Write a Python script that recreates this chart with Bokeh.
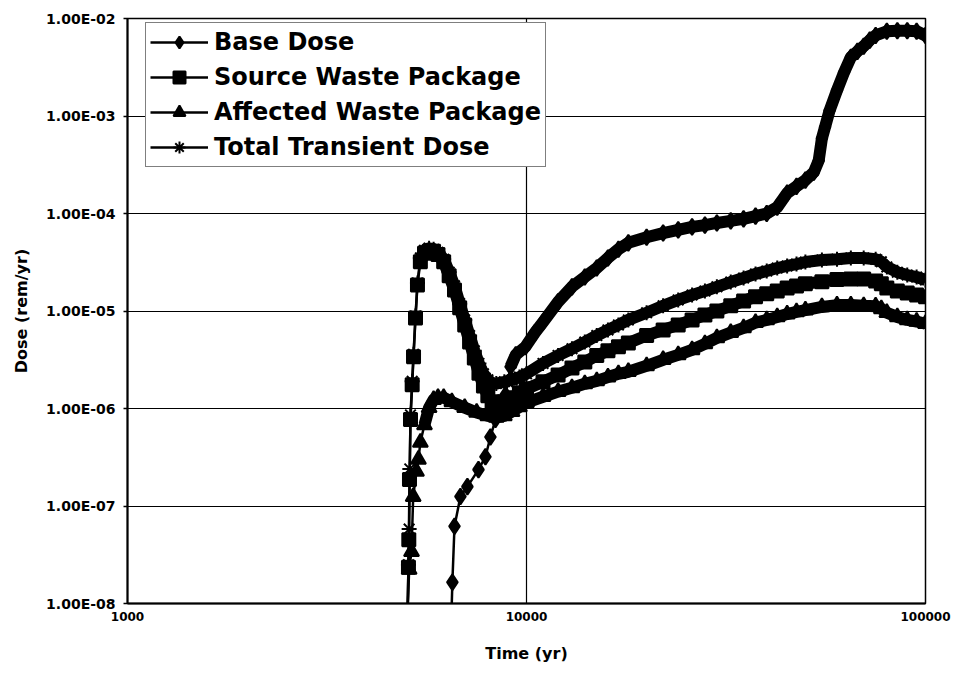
import math
from bokeh.plotting import figure
from bokeh.models import Range1d, FixedTicker, CustomJSTickFormatter, Legend, LegendItem
from bokeh.embed import file_html
from bokeh.resources import INLINE

# ---- data ----
x_ticks = [1000, 10000, 100000]
y_ticks = [1e-8, 1e-7, 1e-6, 1e-5, 1e-4, 1e-3, 1e-2]

base_t = [6480, 6520, 6600, 6830, 7110, 7580, 7890, 8120, 8360, 8860, 9120, 9400, 9940, 10500,
          11000, 12000, 13000, 14000, 15000, 16000, 17000, 18000, 20000, 22000, 24000, 26000,
          28000, 30000, 32500, 35000, 37500, 40000, 42500, 45000, 47500, 50000, 52500, 54000,
          55000, 56000, 57500, 60000, 62500, 65000, 67500, 70000, 72500, 75000, 80000, 85000,
          90000, 95000, 100000]
base_d = [6.9e-9, 1.65e-8, 6.2e-8, 1.25e-7, 1.58e-7, 2.36e-7, 3.2e-7, 5.1e-7, 7.7e-7, 1.38e-6,
          2.68e-6, 3.55e-6, 4.3e-6, 6.0e-6, 7.7e-6, 1.24e-5, 1.77e-5, 2.23e-5, 2.76e-5, 3.5e-5,
          4.3e-5, 5.0e-5, 5.7e-5, 6.3e-5, 6.8e-5, 7.3e-5, 7.6e-5, 8.0e-5, 8.4e-5, 8.8e-5, 9.4e-5,
          1.0e-4, 1.16e-4, 1.62e-4, 1.9e-4, 2.2e-4, 2.65e-4, 3.5e-4, 5.9e-4, 7.7e-4, 1.14e-3,
          1.83e-3, 2.8e-3, 4.0e-3, 4.6e-3, 5.2e-3, 6.0e-3, 6.7e-3, 7.4e-3, 7.5e-3, 7.5e-3,
          7.4e-3, 6.7e-3]

src_t = [5030, 5060, 5070, 5090, 5120, 5170, 5210, 5270, 5330, 5420, 5550, 5700, 5850, 6000,
         6200, 6400, 6600, 6800, 7000, 7200, 7400, 7600, 7800, 8000, 8200, 8400, 8800, 9200,
         9600, 10000, 11000, 12000, 13000, 14000, 15000, 16000, 17000, 18000, 20000, 22000,
         24000, 26000, 28000, 30000, 32500, 35000, 37500, 40000, 42500, 45000, 47500, 50000,
         55000, 60000, 65000, 70000, 75000, 77500, 80000, 85000, 90000, 95000, 100000]
src_d = [6.9e-9, 2.35e-8, 4.5e-8, 1.87e-7, 7.7e-7, 1.75e-6, 3.4e-6, 8.5e-6, 1.85e-5, 3.2e-5,
         3.9e-5, 4.1e-5, 4.1e-5, 3.8e-5, 3.2e-5, 2.3e-5, 1.64e-5, 1.08e-5, 7.2e-6, 4.8e-6,
         3.3e-6, 2.3e-6, 1.7e-6, 1.35e-6, 1.17e-6, 1.09e-6, 1.17e-6, 1.29e-6, 1.45e-6, 1.59e-6,
         1.88e-6, 2.2e-6, 2.6e-6, 3.0e-6, 3.5e-6, 3.9e-6, 4.3e-6, 4.7e-6, 5.6e-6, 6.4e-6,
         7.2e-6, 8.1e-6, 9.1e-6, 1.0e-5, 1.13e-5, 1.27e-5, 1.4e-5, 1.5e-5, 1.6e-5, 1.72e-5,
         1.81e-5, 1.9e-5, 2.0e-5, 2.1e-5, 2.13e-5, 2.13e-5, 2.03e-5, 1.9e-5, 1.72e-5, 1.6e-5,
         1.53e-5, 1.46e-5, 1.4e-5]

aff_t = [5030, 5080, 5150, 5200, 5300, 5360, 5420, 5550, 5700, 5850, 6000, 6200, 6500, 7000,
         7500, 8000, 8400, 8800, 9200, 9600, 10000, 11000, 12000, 13000, 14000, 15000, 16000,
         17000, 18000, 20000, 22000, 24000, 26000, 28000, 30000, 32500, 35000, 37500, 40000,
         42500, 45000, 47500, 50000, 55000, 60000, 65000, 70000, 75000, 77500, 80000, 85000,
         90000, 95000, 100000]
aff_d = [6.9e-9, 2.24e-8, 3.4e-8, 1.25e-7, 2.26e-7, 3.0e-7, 4.5e-7, 6.8e-7, 1.02e-6, 1.23e-6,
         1.29e-6, 1.29e-6, 1.17e-6, 1.02e-6, 9.1e-7, 8.4e-7, 8.1e-7, 8.4e-7, 9.3e-7, 1.04e-6,
         1.15e-6, 1.32e-6, 1.49e-6, 1.63e-6, 1.79e-6, 1.92e-6, 2.1e-6, 2.27e-6, 2.38e-6,
         2.74e-6, 3.16e-6, 3.55e-6, 4.0e-6, 4.6e-6, 5.3e-6, 6.0e-6, 6.7e-6, 7.6e-6, 8.1e-6,
         8.7e-6, 9.3e-6, 9.8e-6, 1.02e-5, 1.1e-5, 1.15e-5, 1.15e-5, 1.13e-5, 1.12e-5, 1.05e-5,
         9.6e-6, 8.7e-6, 8.1e-6, 7.8e-6, 7.4e-6]

tot_t = [5030, 5060, 5080, 5100, 5120, 5170, 5210, 5270, 5330, 5420, 5550, 5700, 5850, 6000,
         6200, 6400, 6600, 6800, 7000, 7200, 7400, 7600, 7800, 8000, 8200, 8400, 8800, 9200,
         9600, 10000, 11000, 12000, 13000, 14000, 15000, 16000, 17000, 18000, 20000, 22000,
         24000, 26000, 28000, 30000, 32500, 35000, 37500, 40000, 42500, 45000, 47500, 50000,
         55000, 60000, 65000, 70000, 75000, 77500, 80000, 85000, 90000, 95000, 100000]
tot_d = [6.9e-9, 2.5e-8, 5.8e-8, 2.4e-7, 8.6e-7, 1.9e-6, 3.6e-6, 8.9e-6, 1.94e-5, 3.5e-5,
         4.2e-5, 4.4e-5, 4.3e-5, 4.0e-5, 3.4e-5, 2.5e-5, 1.81e-5, 1.19e-5, 8.1e-6, 5.6e-6,
         3.9e-6, 2.9e-6, 2.27e-6, 1.97e-6, 1.83e-6, 1.8e-6, 1.88e-6, 1.97e-6, 2.1e-6, 2.27e-6,
         2.9e-6, 3.5e-6, 4.1e-6, 4.8e-6, 5.6e-6, 6.4e-6, 7.2e-6, 8.1e-6, 9.6e-6, 1.13e-5,
         1.3e-5, 1.46e-5, 1.6e-5, 1.77e-5, 1.98e-5, 2.18e-5, 2.4e-5, 2.57e-5, 2.76e-5, 2.9e-5,
         3.03e-5, 3.18e-5, 3.33e-5, 3.4e-5, 3.5e-5, 3.5e-5, 3.4e-5, 3.2e-5, 2.83e-5, 2.5e-5,
         2.34e-5, 2.23e-5, 2.08e-5]

labels = ["Base Dose", "Source Waste Package", "Affected Waste Package", "Total Transient Dose"]
# time from which each series is drawn as a dense (thick) marker band
dense_from = [9000, 5400, 5500, 5400]

FONT = "DejaVu Sans"

p = figure(width=953, height=665, x_axis_type="log", y_axis_type="log",
           x_range=Range1d(1000, 100000), y_range=Range1d(1e-8, 1e-2),
           output_backend="svg", toolbar_location=None,
           min_border_left=127, min_border_right=28, min_border_top=18, min_border_bottom=61)
p.background_fill_color = "white"
p.border_fill_color = "white"
p.outline_line_color = "black"
p.outline_line_width = 1.5

p.xaxis.ticker = FixedTicker(ticks=x_ticks, minor_ticks=[])
p.yaxis.ticker = FixedTicker(ticks=y_ticks, minor_ticks=[])
p.xaxis.formatter = CustomJSTickFormatter(code="return Math.round(tick).toString();")
p.yaxis.formatter = CustomJSTickFormatter(code="""
const s = tick.toExponential(2).toUpperCase();
const parts = s.split('E');
const n = parseInt(parts[1]);
const a = Math.abs(n);
return parts[0] + 'E' + (n < 0 ? '-' : '+') + (a < 10 ? '0' : '') + a;
""")

for ax in (p.xaxis, p.yaxis):
    ax.axis_line_color = "black"
    ax.axis_line_width = 2
    ax.major_tick_line_color = "black"
    ax.major_tick_line_width = 1.5
    ax.major_tick_in = 0
    ax.minor_tick_line_color = None
    ax.major_label_text_font = FONT
    ax.major_label_text_font_style = "bold"
    ax.major_label_text_color = "black"
    ax.axis_label_text_font = FONT
    ax.axis_label_text_font_style = "bold"
    ax.axis_label_text_color = "black"
    ax.axis_label_text_font_size = "16px"

p.xaxis.major_tick_out = 0
p.yaxis.major_tick_out = 4
p.xaxis.major_label_text_font_size = "12px"
p.yaxis.major_label_text_font_size = "14px"
p.xaxis.major_label_standoff = 8
p.yaxis.major_label_standoff = 8
p.xaxis.axis_label = "Time (yr)"
p.yaxis.axis_label = "Dose (rem/yr)"
p.xaxis.axis_label_standoff = 20
p.yaxis.axis_label_standoff = 12

p.xgrid.grid_line_color = "black"
p.xgrid.grid_line_width = 1.2
p.ygrid.grid_line_color = "black"
p.ygrid.grid_line_width = 1.2

series = [
    (base_t, base_d, dict(marker="diamond", size=16)),
    (src_t, src_d, dict(marker="square", size=13)),
    (aff_t, aff_d, dict(marker="triangle", size=15)),
    (tot_t, tot_d, dict(marker="asterisk", size=15)),
]

items = []
for (t, d, mk), lab, t0 in zip(series, labels, dense_from):
    ln = p.line(t, d, line_color="black", line_width=2.5)
    tt = [a for a in t if a >= t0]
    dd = [b for a, b in zip(t, d) if a >= t0]
    p.line(tt, dd, line_color="black", line_width=12, line_join="round")
    sc = p.scatter(t, d, fill_color="black", line_color="black", line_width=2, **mk)
    items.append(LegendItem(label=lab, renderers=[ln, sc]))

legend = Legend(items=items, location=(18, 436))
legend.label_text_font = FONT
legend.label_text_font_style = "bold"
legend.label_text_font_size = "24px"
legend.label_text_color = "black"
legend.glyph_width = 58
legend.glyph_height = 30
legend.label_height = 30
legend.label_standoff = 6
legend.spacing = 5
legend.padding = 4
legend.margin = 0
legend.border_line_color = "black"
legend.border_line_width = 1.5
legend.background_fill_color = "white"
legend.background_fill_alpha = 1.0
p.add_layout(legend)

open("out.html", "w").write(file_html(p, INLINE))
